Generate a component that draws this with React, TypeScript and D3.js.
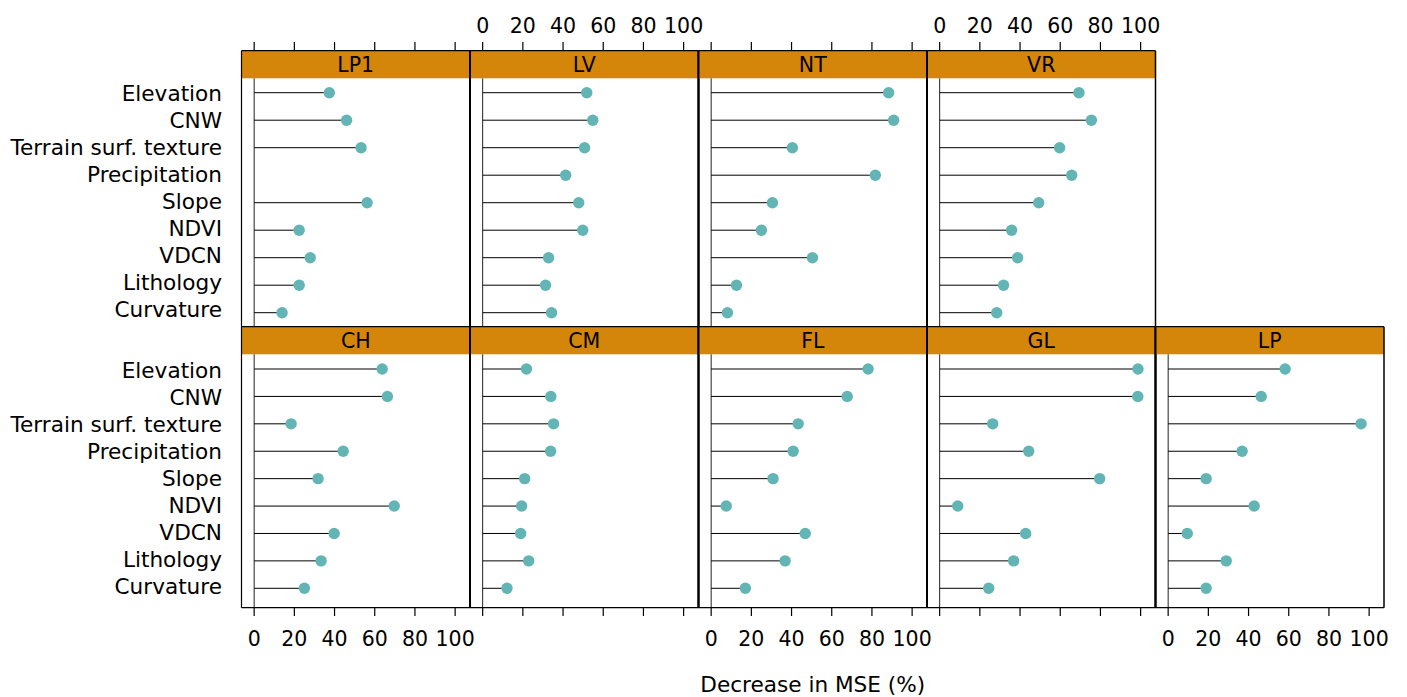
import React from "react";
import * as d3 from "d3";

const categories = [
  "Elevation",
  "CNW",
  "Terrain surf. texture",
  "Precipitation",
  "Slope",
  "NDVI",
  "VDCN",
  "Lithology",
  "Curvature",
];

// values in category order; null = missing
const LP1 = [37.4, 46.0, 53.2, null, 56.2, 22.4, 27.9, 22.4, 13.9];
const LV = [51.8, 54.8, 50.7, 41.3, 47.8, 49.8, 32.8, 31.3, 34.3];
const NT = [88.3, 90.8, 40.4, 81.7, 30.5, 25.0, 50.4, 12.6, 8.1];
const VR = [69.3, 75.5, 59.7, 65.7, 49.3, 35.8, 38.8, 31.8, 28.4];
const CH = [63.7, 66.3, 18.4, 44.3, 31.8, 69.7, 39.8, 33.3, 25.0];
const CM = [21.8, 33.9, 35.3, 33.8, 20.9, 19.4, 18.9, 22.9, 12.1];
const FL = [78.1, 67.7, 43.3, 40.8, 30.8, 7.5, 46.8, 36.8, 17.0];
const GL = [98.7, 98.6, 26.4, 44.3, 79.6, 9.0, 42.8, 36.8, 24.4];
const LP = [58.2, 46.3, 96.0, 36.8, 18.9, 42.8, 9.5, 28.9, 18.9];

const xTicks = [0, 20, 40, 60, 80, 100];
const xDomain: [number, number] = [-6.3, 107.4];
const xTitle = "Decrease in MSE (%)";

type Panel = {
  name: string;
  values: (number | null)[];
  row: number;
  col: number;
  tickLabels: boolean;
};

const panels: Panel[] = [
  { name: "LP1", values: LP1, row: 0, col: 0, tickLabels: false },
  { name: "LV", values: LV, row: 0, col: 1, tickLabels: true },
  { name: "NT", values: NT, row: 0, col: 2, tickLabels: false },
  { name: "VR", values: VR, row: 0, col: 3, tickLabels: true },
  { name: "CH", values: CH, row: 1, col: 0, tickLabels: true },
  { name: "CM", values: CM, row: 1, col: 1, tickLabels: false },
  { name: "FL", values: FL, row: 1, col: 2, tickLabels: true },
  { name: "GL", values: GL, row: 1, col: 3, tickLabels: false },
  { name: "LP", values: LP, row: 1, col: 4, tickLabels: true },
];

const W = 1407;
const H = 697;
const FONT = "'DejaVu Sans', sans-serif";
const FS = 20.5;
const FS_LAB = 21.6;
const STRIP = "#d4860a";
const DOT = "#62b5b4";

const left = 241.5;
const right = 1384;
const ncol = 5;
const colW = (right - left) / ncol;

const rows = [
  { stripTop: 50.7, top: 78.3, bottom: 326.7, first: 92.7, last: 312.7, lFirst: 93, lLast: 309 },
  { stripTop: 326.7, top: 354.3, bottom: 607.7, first: 369, last: 588.3, lFirst: 370, lLast: 586 },
];

export default function App() {
  const yScales = rows.map((r) =>
    d3.scalePoint<string>().domain(categories).range([r.first, r.last])
  );
  const labelScales = rows.map((r) =>
    d3.scalePoint<string>().domain(categories).range([r.lFirst, r.lLast])
  );

  return (
    <svg
      width={W}
      height={H}
      style={{ position: "absolute", left: 0, top: 0, background: "#fff" }}
      fontFamily={FONT}
    >
      {rows.map((r, ri) =>
        categories.map((c) => (
          <text
            key={`yl-${ri}-${c}`}
            x={222}
            y={labelScales[ri](c)!}
            dy="0.36em"
            textAnchor="end"
            fontSize={FS_LAB}
            fill="#000"
          >
            {c}
          </text>
        ))
      )}

      {panels.map((p) => {
        const r = rows[p.row];
        const x0 = left + p.col * colW;
        const x1 = x0 + colW;
        const x = d3.scaleLinear().domain(xDomain).range([x0, x1]);
        const y = yScales[p.row];
        return (
          <g key={p.name}>
            <rect
              x={x0}
              y={r.stripTop}
              width={colW}
              height={r.top - r.stripTop}
              fill={STRIP}
            />
            <line x1={x0} x2={x1} y1={r.stripTop} y2={r.stripTop} stroke="#000" strokeWidth={1.3} />
            <text
              x={(x0 + x1) / 2}
              y={(r.stripTop + r.top) / 2}
              dy="0.36em"
              textAnchor="middle"
              fontSize={FS}
              fill="#000"
            >
              {p.name}
            </text>
            <line
              x1={x(0)}
              x2={x(0)}
              y1={r.top}
              y2={r.bottom}
              stroke="#222"
              strokeWidth={1}
            />
            {p.values.map((v, i) =>
              v == null ? null : (
                <g key={i}>
                  <line
                    x1={x(0)}
                    x2={x(v)}
                    y1={y(categories[i])!}
                    y2={y(categories[i])!}
                    stroke="#000"
                    strokeWidth={1}
                  />
                  <circle cx={x(v)} cy={y(categories[i])!} r={5.7} fill={DOT} />
                </g>
              )
            )}
            <line x1={x0} x2={x0} y1={r.stripTop} y2={r.bottom} stroke="#000" strokeWidth={p.col === 0 ? 1.2 : 2} />
            <line x1={x1} x2={x1} y1={r.stripTop} y2={r.bottom} stroke="#000" strokeWidth={p.col === 4 || (p.row === 0 && p.col === 3) ? 1.5 : 2} />
            {p.row === 1 && (
              <line x1={x0} x2={x1} y1={r.bottom} y2={r.bottom} stroke="#000" strokeWidth={1.2} />
            )}
            {xTicks.map((t) =>
              p.row === 0 ? (
                <g key={t}>
                  <line x1={x(t)} x2={x(t)} y1={42} y2={r.stripTop} stroke="#000" strokeWidth={1.2} />
                  {p.tickLabels && (
                    <text x={x(t)} y={33} textAnchor="middle" fontSize={FS} fill="#000">
                      {t}
                    </text>
                  )}
                </g>
              ) : (
                <g key={t}>
                  <line x1={x(t)} x2={x(t)} y1={r.bottom} y2={616} stroke="#000" strokeWidth={1.2} />
                  {p.tickLabels && (
                    <text x={x(t)} y={646} textAnchor="middle" fontSize={FS} fill="#000">
                      {t}
                    </text>
                  )}
                </g>
              )
            )}
          </g>
        );
      })}

      <text x={(left + right) / 2} y={692} textAnchor="middle" fontSize={FS_LAB} fill="#000">
        {xTitle}
      </text>
    </svg>
  );
}
